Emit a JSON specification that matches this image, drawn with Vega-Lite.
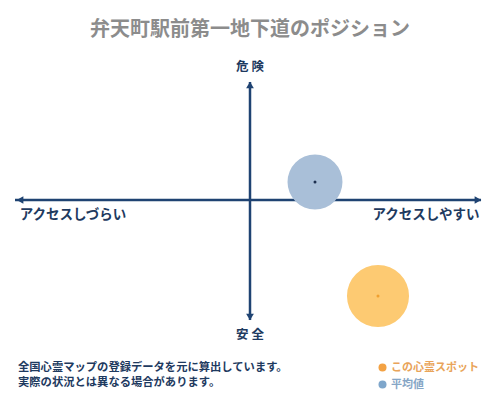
{
  "$schema": "https://vega.github.io/schema/vega-lite/v6.json",
  "autosize": {"type": "fit", "contains": "padding"},
  "width": 500,
  "height": 400,
  "padding": 0,
  "background": "white",
  "config": {
    "view": {"stroke": null},
    "font": "Noto Sans CJK JP",
    "text": {"font": "Noto Sans CJK JP"}
  },
  "layer": [
    {
      "data": {"values": [{}]},
      "mark": {"type": "rule", "color": "#1f4372", "strokeWidth": 2.5},
      "encoding": {
        "x": {"datum": -4.7, "type": "quantitative", "axis": null, "scale": {"domain": [-5, 5], "nice": false, "zero": false}},
        "x2": {"datum": 4.62},
        "y": {"datum": 0, "type": "quantitative", "axis": null, "scale": {"domain": [-4, 4], "nice": false, "zero": false}}
      }
    },
    {
      "data": {"values": [{}]},
      "mark": {"type": "rule", "color": "#1f4372", "strokeWidth": 2.5},
      "encoding": {"x": {"datum": 0, "type": "quantitative"}, "y": {"datum": 2.36, "type": "quantitative"}, "y2": {"datum": -2.4}}
    },
    {
      "data": {"values": [
        {"series": "この心霊スポット", "access": 2.56, "danger": -1.92},
        {"series": "平均値", "access": 1.3, "danger": 0.36}
      ]},
      "encoding": {
        "x": {"field": "access", "type": "quantitative"},
        "y": {"field": "danger", "type": "quantitative"}
      },
      "layer": [
        {
          "mark": {"type": "point", "filled": true, "size": 10, "opacity": 1},
          "encoding": {
            "color": {
              "field": "series", "type": "nominal",
              "scale": {"domain": ["この心霊スポット", "平均値"], "range": ["#f3a244", "#7ea6cb"]},
              "legend": {
                "title": null,
                "orient": "none",
                "legendX": 377,
                "legendY": 362,
                "padding": 0,
                "symbolType": "circle",
                "symbolSize": 64,
                "symbolOpacity": 1,
                "labelFont": "Noto Sans CJK JP",
                "labelFontSize": 11,
                "labelFontWeight": "bold",
                "labelOffset": 3,
                "rowPadding": 5,
                "encode": {
                  "labels": {"update": {"fill": {"signal": "datum.value === '平均値' ? '#86a6c6' : '#e9a45a'"}}}
                }
              }
            }
          }
        },
        {
          "mark": {"type": "circle", "opacity": 1},
          "encoding": {
            "size": {"condition": {"test": "datum.series === '平均値'", "value": 3020}, "value": 3850},
            "color": {"condition": {"test": "datum.series === '平均値'", "value": "#a9bfd8"}, "value": "#fdca72"}
          }
        },
        {
          "mark": {"type": "point", "filled": true, "size": 9, "opacity": 1},
          "encoding": {
            "color": {"condition": {"test": "datum.series === '平均値'", "value": "#1d2f4f"}, "value": "#f0a030"}
          }
        }
      ]
    },
    {
      "data": {"values": [{}]},
      "mark": {"type": "point", "shape": "triangle-left", "filled": true, "size": 60, "color": "#1f4372", "opacity": 1},
      "encoding": {"x": {"datum": -4.6, "type": "quantitative"}, "y": {"datum": 0, "type": "quantitative"}}
    },
    {
      "data": {"values": [{}]},
      "mark": {"type": "point", "shape": "triangle-right", "filled": true, "size": 60, "color": "#1f4372", "opacity": 1},
      "encoding": {"x": {"datum": 4.56, "type": "quantitative"}, "y": {"datum": 0, "type": "quantitative"}}
    },
    {
      "data": {"values": [{}]},
      "mark": {"type": "point", "shape": "triangle-up", "filled": true, "size": 60, "color": "#1f4372", "opacity": 1},
      "encoding": {"x": {"datum": 0, "type": "quantitative"}, "y": {"datum": 2.3, "type": "quantitative"}}
    },
    {
      "data": {"values": [{}]},
      "mark": {"type": "point", "shape": "triangle-down", "filled": true, "size": 60, "color": "#1f4372", "opacity": 1},
      "encoding": {"x": {"datum": 0, "type": "quantitative"}, "y": {"datum": -2.34, "type": "quantitative"}}
    },
    {
      "data": {"values": [{"text": "弁天町駅前第一地下道のポジション"}]},
      "mark": {"type": "text", "fontSize": 20, "fontWeight": "bold", "color": "#8c8c8c", "align": "center", "baseline": "middle"},
      "encoding": {"x": {"datum": 0, "type": "quantitative"}, "y": {"datum": 3.4, "type": "quantitative"}, "text": {"field": "text"}}
    },
    {
      "data": {"values": [{"text": "危 険"}]},
      "mark": {"type": "text", "fontSize": 12.5, "fontWeight": "bold", "color": "#1e3a5f", "align": "center", "baseline": "middle"},
      "encoding": {"x": {"datum": 0, "type": "quantitative"}, "y": {"datum": 2.66, "type": "quantitative"}, "text": {"field": "text"}}
    },
    {
      "data": {"values": [{"text": "安 全"}]},
      "mark": {"type": "text", "fontSize": 12.5, "fontWeight": "bold", "color": "#1e3a5f", "align": "center", "baseline": "middle"},
      "encoding": {"x": {"datum": 0, "type": "quantitative"}, "y": {"datum": -2.7, "type": "quantitative"}, "text": {"field": "text"}}
    },
    {
      "data": {"values": [{"text": "アクセスしづらい"}]},
      "mark": {"type": "text", "fontSize": 13.5, "fontWeight": "bold", "color": "#1e3a5f", "align": "center", "baseline": "middle"},
      "encoding": {"x": {"datum": -3.54, "type": "quantitative"}, "y": {"datum": -0.3, "type": "quantitative"}, "text": {"field": "text"}}
    },
    {
      "data": {"values": [{"text": "アクセスしやすい"}]},
      "mark": {"type": "text", "fontSize": 13.5, "fontWeight": "bold", "color": "#1e3a5f", "align": "center", "baseline": "middle"},
      "encoding": {"x": {"datum": 3.52, "type": "quantitative"}, "y": {"datum": -0.3, "type": "quantitative"}, "text": {"field": "text"}}
    },
    {
      "data": {"values": [{"text": "全国心霊マップの登録データを元に算出しています。"}]},
      "mark": {"type": "text", "fontSize": 11.3, "fontWeight": "bold", "color": "#1e3a5f", "align": "left", "baseline": "middle"},
      "encoding": {"x": {"datum": -4.64, "type": "quantitative"}, "y": {"datum": -3.36, "type": "quantitative"}, "text": {"field": "text"}}
    },
    {
      "data": {"values": [{"text": "実際の状況とは異なる場合があります。"}]},
      "mark": {"type": "text", "fontSize": 11.3, "fontWeight": "bold", "color": "#1e3a5f", "align": "left", "baseline": "middle"},
      "encoding": {"x": {"datum": -4.64, "type": "quantitative"}, "y": {"datum": -3.66, "type": "quantitative"}, "text": {"field": "text"}}
    }
  ]
}
